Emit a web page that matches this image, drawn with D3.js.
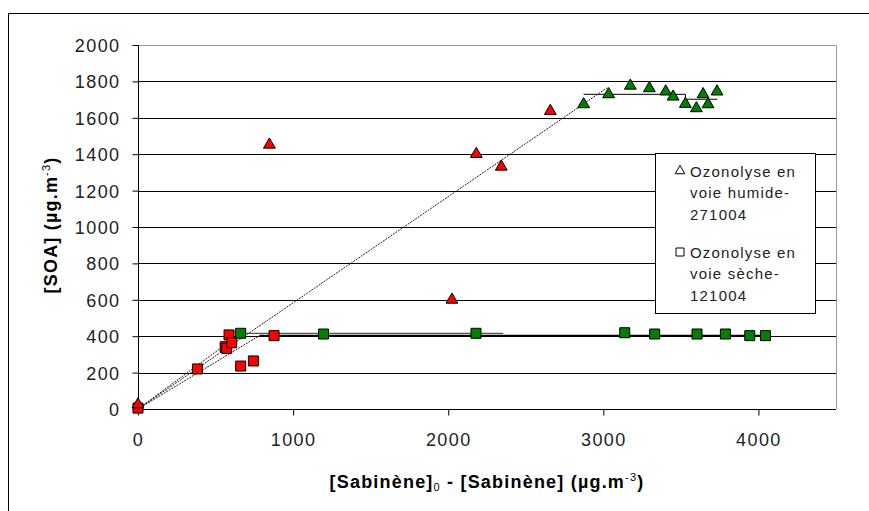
<!DOCTYPE html>
<html><head><meta charset="utf-8">
<script src="https://cdn.jsdelivr.net/npm/d3@7"></script>
<style>body{margin:0;background:#fff}svg{display:block;font-family:"Liberation Sans",Arial,sans-serif}</style>
</head><body><svg id="c" width="869" height="511"></svg>
<script>
// ---- data ----
const xTicks = [0, 1000, 2000, 3000, 4000];
const yTicks = [0, 200, 400, 600, 800, 1000, 1200, 1400, 1600, 1800, 2000];
const triRedX = [0, 847, 2024, 2181, 2342, 2658];
const triRedY = [25, 1452, 600, 1401, 1331, 1637];
const triGreenX = [2873, 3034, 3174, 3297, 3402, 3450, 3529, 3600, 3643, 3675, 3733];
const triGreenY = [1674, 1729, 1776, 1762, 1744, 1716, 1676, 1652, 1729, 1674, 1744];
const sqRedX = [0, 383, 562, 572, 587, 604, 662, 744, 877];
const sqRedY = [5, 220, 342, 333, 407, 364, 236, 264, 403];
const sqGreenX = [662, 1196, 2179, 3138, 3331, 3604, 3787, 3944, 4045];
const sqGreenY = [416, 412, 416, 419, 412, 412, 412, 403, 403];
const fitHumideX = [0, 3025];
const fitHumideY = [0, 1765];
const plateauHumideX = [2873, 3529, 3529, 3735];
const plateauHumideY = [1729, 1729, 1702, 1702];
const fitSecheAX = [0, 662];
const fitSecheAY = [0, 415];
const fitSecheBX = [0, 787];
const fitSecheBY = [0, 405];
const plateauSecheAX = [662, 2355];
const plateauSecheAY = [416, 416];
const plateauSecheBX = [787, 4045];
const plateauSecheBY = [403, 403];
const legendLabels = [["Ozonolyse en", "voie humide-", "271004"], ["Ozonolyse en", "voie sèche-", "121004"]];

// ---- layout ----
const svg = d3.select("#c");
const L = 138, R = 836, T = 45, B = 409;
const x = d3.scaleLinear().domain([0, 4500]).range([L, R]);
const y = d3.scaleLinear().domain([0, 2000]).range([B, T]);

// outer frame
svg.append("rect").attr("x", 8.5).attr("y", 13.5).attr("width", 900).attr("height", 600)
  .attr("fill", "none").attr("stroke", "#000");

// gridlines
svg.append("g").selectAll("line").data(yTicks.filter(v => v > 0 && v < 2000)).join("line")
  .attr("x1", L).attr("x2", R).attr("y1", d => Math.round(y(d)) + 0.5).attr("y2", d => Math.round(y(d)) + 0.5)
  .attr("stroke", "#000");
// plot border (top/right gray)
svg.append("path").attr("d", `M${L},${T + 0.5}H${R + 0.5}V${B}`).attr("fill", "none").attr("stroke", "#999");

// axes
const yAxis = d3.axisLeft(y).tickValues(yTicks).tickSize(6).tickPadding(12).tickFormat(d3.format("d"));
const gy = svg.append("g").attr("transform", `translate(${L + 0.5},0)`).call(yAxis);
const xAxis = d3.axisBottom(x).tickValues(xTicks).tickSize(6).tickPadding(18).tickFormat(d3.format("d"));
const gx = svg.append("g").attr("transform", `translate(0,${B + 0.5})`).call(xAxis);
[gy, gx].forEach(g => {
  g.select(".domain").attr("stroke", "#000");
  g.selectAll(".tick line").attr("stroke", "#000");
  g.selectAll(".tick text").attr("fill", "#222").style("font-size", "18px").style("letter-spacing", "1.4px");
});
gx.select(".domain").attr("d", `M${L},0H${R}`);
gy.select(".domain").attr("d", `M0,${B}V${T}`);
gy.selectAll(".tick text").attr("dy", "0.36em");

// lines
const line = d3.line().x(d => x(d[0])).y(d => y(d[1]));
const zip = (a, b) => a.map((v, i) => [v, b[i]]);
svg.append("path").attr("d", line(zip(plateauSecheAX, plateauSecheAY))).attr("fill", "none").attr("stroke", "#555").attr("stroke-width", 1.2);
svg.append("path").attr("d", line(zip(plateauSecheBX, plateauSecheBY))).attr("fill", "none").attr("stroke", "#000").attr("stroke-width", 1.6);
svg.append("path").attr("d", line(zip(plateauHumideX, plateauHumideY))).attr("fill", "none").attr("stroke", "#000").attr("stroke-width", 1);
[[fitHumideX, fitHumideY], [fitSecheAX, fitSecheAY], [fitSecheBX, fitSecheBY]].forEach(([a, b]) => {
  svg.append("path").attr("d", line(zip(a, b))).attr("fill", "none").attr("stroke", "#222")
    .attr("stroke-width", 1).attr("stroke-dasharray", "2,1");
});

// markers
const tri = d3.symbol().type(d3.symbolTriangle).size(60)();
const sq = d3.symbol().type(d3.symbolSquare).size(100)();
function pts(xs, ys, shape, fill) {
  svg.append("g").selectAll("path").data(zip(xs, ys)).join("path")
    .attr("d", shape).attr("transform", d => `translate(${x(d[0])},${y(d[1])})`)
    .attr("fill", fill).attr("stroke", "#000").attr("stroke-width", 1);
}
pts(sqRedX, sqRedY, sq, "#ff0000");
pts(sqGreenX, sqGreenY, sq, "#008000");
pts(triRedX, triRedY, tri, "#ff0000");
pts(triGreenX, triGreenY, tri, "#008000");

// axis titles
const xt = svg.append("text").attr("x", (L + R) / 2).attr("y", 488).attr("text-anchor", "middle")
  .style("font-size", "18px").style("font-weight", "bold").style("letter-spacing", "1.2px").attr("fill", "#000");
xt.append("tspan").text("[Sabinène]");
xt.append("tspan").text("0").style("font-size", "11px").style("font-weight", "normal").attr("dy", 3);
xt.append("tspan").text(" - [Sabinène] (µg.m").attr("dy", -3);
xt.append("tspan").text("-3").style("font-size", "11px").style("font-weight", "normal").attr("dy", -7);
xt.append("tspan").text(")").attr("dy", 7);

const yt = svg.append("text").attr("transform", "translate(57,225) rotate(-90)").attr("text-anchor", "middle")
  .style("font-size", "18px").style("font-weight", "bold").style("letter-spacing", "1.2px").attr("fill", "#000");
yt.append("tspan").text("[SOA] (µg.m");
yt.append("tspan").text("-3").style("font-size", "11px").style("font-weight", "normal").attr("dy", -7);
yt.append("tspan").text(")").attr("dy", 7);

// legend
const lg = svg.append("g");
lg.append("rect").attr("x", 655.5).attr("y", 153.5).attr("width", 160).attr("height", 160)
  .attr("fill", "#fff").attr("stroke", "#000");
const legBase = [177, 258];
const legShapes = [d3.symbol().type(d3.symbolTriangle).size(40)(), d3.symbol().type(d3.symbolSquare).size(64)()];
legendLabels.forEach((lines, i) => {
  lg.append("path").attr("d", legShapes[i]).attr("transform", `translate(680,${legBase[i] - 6})`)
    .attr("fill", "#fff").attr("stroke", "#000");
  lines.forEach((t, j) => {
    lg.append("text").attr("x", 690).attr("y", legBase[i] + j * 21.3).text(t)
      .style("font-size", "15px").style("letter-spacing", "1.2px").attr("fill", "#222");
  });
});
</script></body></html>
